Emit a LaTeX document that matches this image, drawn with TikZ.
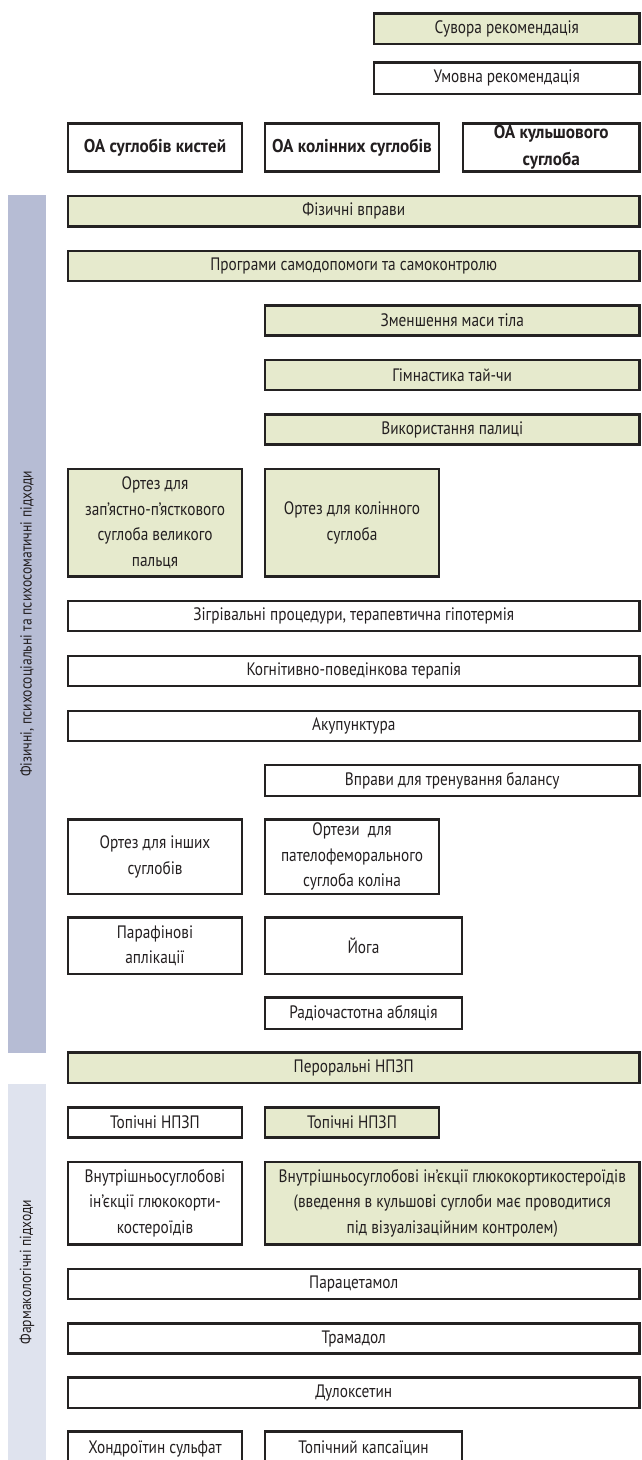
\documentclass[tikz,border=0pt]{standalone}
\usepackage{fontspec}
\setmainfont{PT Sans}[FakeStretch=0.85]
\newfontfamily\headfont{PT Sans}[FakeStretch=0.93]
\definecolor{boxline}{RGB}{36,34,34}
\definecolor{strongfill}{RGB}{230,234,205}
\definecolor{sideA}{RGB}{182,188,212}
\definecolor{sideB}{RGB}{223,227,238}
\definecolor{txt}{RGB}{35,31,32}
\newcommand\mainfnt{\fontsize{18}{25.5}\selectfont}
\newcommand\headfnt{\headfont\bfseries\fontsize{18.5}{26.5}\selectfont}
\newcommand\sidefnt{\fontsize{16}{18}\selectfont}
% \bx{name}{style}{x1}{y1}{x2}{y2}{text}
\newcommand\bx[7]{\node[#2, minimum width={(#5-#3)*1pt}, minimum height={(#6-#4)*1pt}] (#1) at ({(#3+#5)/2},{(#4+#6)/2}) {#7};}
\begin{document}
\begin{tikzpicture}[x=1pt,y=-1pt,
  box/.style={draw=boxline, line width=2.7pt, inner sep=0pt, align=center, text=txt, font=\mainfnt},
  strong/.style={box, fill=strongfill},
  cond/.style={box, fill=white},
  head/.style={cond, font=\headfnt},
  sidebar/.style={inner sep=0pt, draw=none},
  sidelabel/.style={rotate=90, text=txt, font=\sidefnt, inner sep=0pt}]
\useasboundingbox (0,0) rectangle (641,1460);
\clip (0,0) rectangle (641,1460);
\fill[white] (0,0) rectangle (641,1460);

% legend
\bx{sv}{strong}{374}{13.5}{639.5}{44}{Сувора рекомендація}
\bx{um}{cond}{374}{62.5}{639.5}{94}{Умовна рекомендація}

% headers
\bx{h1}{head}{68}{123.5}{242}{171.5}{ОА суглобів кистей}
\bx{h2}{head}{265}{123.5}{439}{171.5}{ОА колінних суглобів}
\bx{h3}{head}{463}{123.5}{639.5}{171.5}{ОА кульшового\\суглоба}

% sidebars
\node[sidebar, fill=sideA, minimum width=38pt, minimum height=857.5pt] (s1) at (27,623.75) {};
\node[sidelabel] (s1l) at (s1.center) {Фізичні, психосоціальні та психосоматичні підходи};
\node[sidebar, fill=sideB, minimum width=38pt, minimum height=376pt] (s2) at (27,1272) {};
\node[sidelabel] (s2l) at (s2.center) {Фармакологічні підходи};

% physical
\bx{b1}{strong}{68}{196}{639.5}{226.5}{Фізичні вправи}
\bx{b2}{strong}{68}{251}{639.5}{281}{Програми самодопомоги та самоконтролю}
\bx{b3}{strong}{265}{305.5}{639.5}{335.5}{Зменшення маси тіла}
\bx{b4}{strong}{265}{360}{639.5}{390}{Гімнастика тай-чи}
\bx{b5}{strong}{265}{414.5}{639.5}{444.5}{Використання палиці}
\bx{b6a}{strong}{68}{469}{242}{576.5}{Ортез для\\зап’ястно-п’ясткового\\суглоба великого\\пальця}
\bx{b6b}{strong}{265}{469}{439}{576.5}{Ортез для колінного\\суглоба}
\bx{b7}{cond}{68}{601}{639.5}{631}{Зігрівальні процедури, терапевтична гіпотермія}
\bx{b8}{cond}{68}{656}{639.5}{686}{Когнітивно-поведінкова терапія}
\bx{b9}{cond}{68}{711}{639.5}{741}{Акупунктура}
\bx{b10}{cond}{265}{765}{639.5}{796}{Вправи для тренування балансу}
\bx{b11a}{cond}{68}{819.5}{242}{894}{Ортез для інших\\суглобів}
\bx{b11b}{cond}{265}{819.5}{439}{894}{Ортези\ \ для\\пателофеморального\\суглоба коліна}
\bx{b12a}{cond}{68}{917.5}{242}{974}{Парафінові\\аплікації}
\bx{b12b}{cond}{265}{917.5}{462}{974}{Йога}
\bx{b13}{cond}{265}{997.5}{462}{1029}{Радіочастотна абляція}

% pharmacological
\bx{p1}{strong}{68}{1052.5}{639.5}{1083}{Пероральні НПЗП}
\bx{p2a}{cond}{68}{1107.5}{242}{1137.5}{Топічні НПЗП}
\bx{p2b}{strong}{265}{1107.5}{439}{1137.5}{Топічні НПЗП}
\bx{p3a}{cond}{68}{1162}{242}{1244.5}{Внутрішньосуглобові\\ін’єкції глюкокорти-\\костероїдів}
\bx{p3b}{strong}{265}{1162}{639.5}{1244.5}{Внутрішньосуглобові ін’єкції глюкокортикостероїдів\\(введення в кульшові суглоби має проводитися\\під візуалізаційним контролем)}
\bx{p4}{cond}{68}{1269}{639.5}{1299}{Парацетамол}
\bx{p5}{cond}{68}{1323.5}{639.5}{1353.5}{Трамадол}
\bx{p6}{cond}{68}{1377.5}{639.5}{1408}{Дулоксетин}
\bx{p7a}{cond}{68}{1431.5}{242}{1466}{Хондроїтин сульфат}
\bx{p7b}{cond}{265}{1431.5}{462}{1466}{Топічний капсаїцин}
\end{tikzpicture}
\end{document}
